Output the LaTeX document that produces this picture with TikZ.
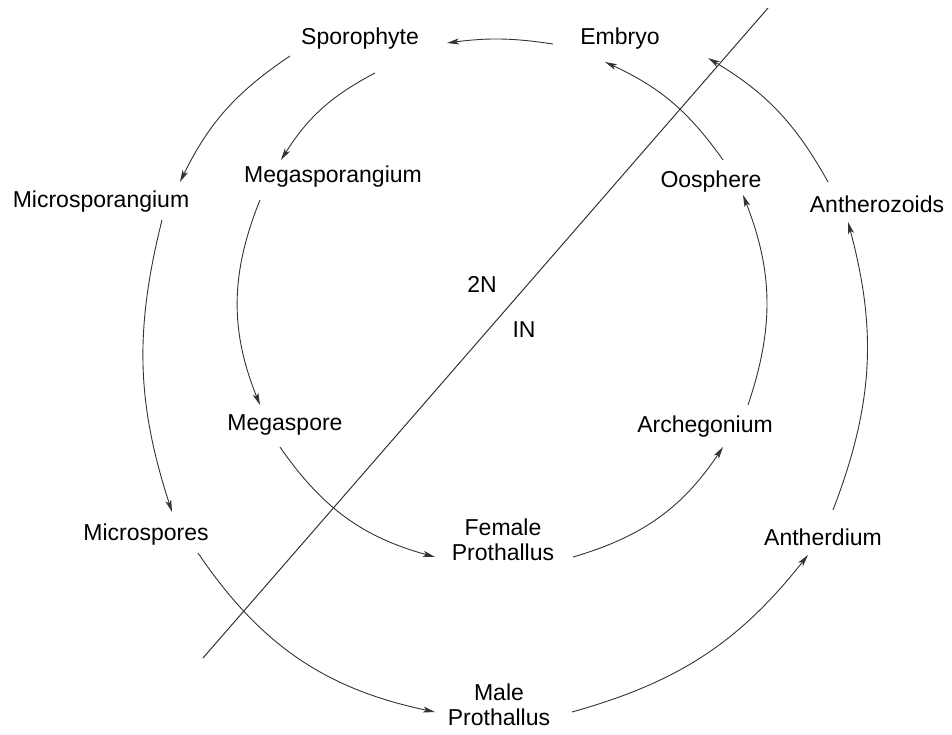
\documentclass[tikz,border=0pt]{standalone}
\usepackage{fontspec}
\setmainfont{Liberation Sans}
\usetikzlibrary{arrows.meta}
\begin{document}
\begin{tikzpicture}[x=1pt,y=1pt,
  lbl/.style={font=\fontsize{23}{25}\selectfont, inner sep=0pt, align=center, text=black},
  conn/.style={line width=0.9pt, black!80, -{Stealth[length=12pt,width=6pt,inset=3pt]}},
  halfline/.style={line width=1pt, black!80}]
\useasboundingbox (0,0) rectangle (952,-735);
% nodes (anchor base at baseline)
\node[lbl,anchor=base] (spo) at (360,-45) {Sporophyte};
\node[lbl,anchor=base] (emb) at (620,-45) {Embryo};
\node[lbl,anchor=base] (mcs) at (101,-208) {Microsporangium};
\node[lbl,anchor=base] (mgs) at (333,-183) {Megasporangium};
\node[lbl,anchor=base] (oos) at (711,-188) {Oosphere};
\node[lbl,anchor=base] (ant) at (877,-213) {Antherozoids};
\node[lbl,anchor=base] (twoN) at (482,-292) {2N};
\node[lbl,anchor=base] (oneN) at (524,-337) {IN};
\node[lbl,anchor=base] (mgp) at (285,-430) {Megaspore};
\node[lbl,anchor=base] (arc) at (705,-432) {Archegonium};
\node[lbl,anchor=base] (mcp) at (146,-540) {Microspores};
\node[lbl,anchor=base] (atd) at (823,-545) {Antherdium};
\node[lbl,anchor=center] (fem) at (503,-540) {Female\\Prothallus};
\node[lbl,anchor=center] (mal) at (499,-705) {Male\\Prothallus};
% dividing line
\coordinate (d1) at (203,-658);
\coordinate (d2) at (768,-8);
\draw[halfline] (d1) -- (d2);
% connectors
\draw[conn] ([shift={(-67,1)}]emb.base) to[bend right=8] ([shift={(87,2)}]spo.base);
\draw[conn] ([shift={(-70,-11)}]spo.base) to[bend right=15] ([shift={(79,26)}]mcs.base);
\draw[conn] ([shift={(15,-28)}]spo.base) to[bend right=15] ([shift={(-52,23)}]mgs.base);
\draw[conn] ([shift={(61,-12)}]mcs.base) to[bend right=16] ([shift={(26,28)}]mcp.base);
\draw[conn] ([shift={(-73,-17)}]mgs.base) to[bend right=22] ([shift={(-25,25)}]mgp.base);
\draw[conn] ([shift={(-5,-17)}]mgp.base) to[bend right=20] ([shift={(-68,-17)}]fem.center);
\draw[conn] ([shift={(52,-13)}]mcp.base) to[bend right=22] ([shift={(-64,-7)}]mal.center);
\draw[conn] ([shift={(70,-17)}]fem.center) to[bend right=20] ([shift={(18,-15)}]arc.base);
\draw[conn] ([shift={(73,-7)}]mal.center) to[bend right=18] ([shift={(-15,-10)}]atd.base);
\draw[conn] ([shift={(43,27)}]arc.base) to[bend right=20] ([shift={(32,-7)}]oos.base);
\draw[conn] ([shift={(10,35)}]atd.base) to[bend right=18] ([shift={(-29,-9)}]ant.base);
\draw[conn] ([shift={(12,28)}]oos.base) to[bend right=15] ([shift={(-15,-17)}]emb.base);
\draw[conn] ([shift={(-49,31)}]ant.base) to[bend right=15] ([shift={(88,-13)}]emb.base);
\end{tikzpicture}
\end{document}
